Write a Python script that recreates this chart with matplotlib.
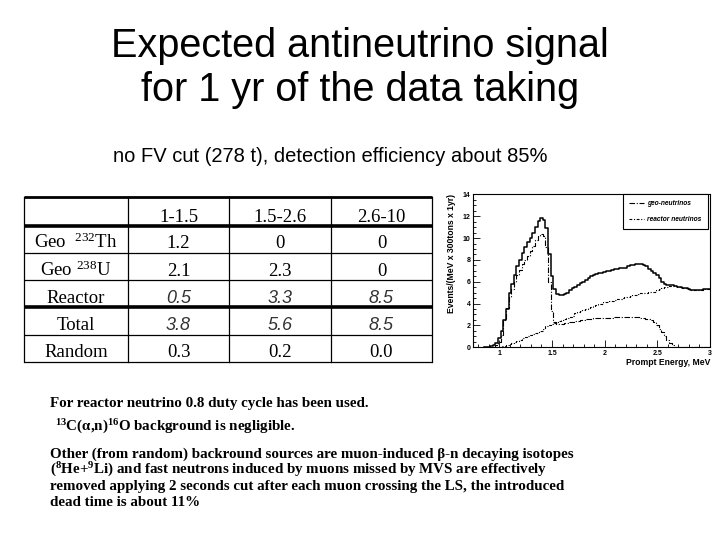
import matplotlib
matplotlib.use("Agg")
import matplotlib.pyplot as plt
import numpy as np
from matplotlib.ticker import MultipleLocator

plt.rcParams['mathtext.fontset'] = 'custom'
plt.rcParams['mathtext.rm'] = 'Liberation Serif'
plt.rcParams['mathtext.bf'] = 'Liberation Serif:bold'
plt.rcParams['mathtext.it'] = 'Liberation Serif:italic'

# ---- table data ----
col_labels = ["1-1.5", "1.5-2.6", "2.6-10"]
row_labels = [r"Geo  $^{232}$Th", r"Geo $^{238}$U", "Reactor", "Total", "Random"]
geo_th = [1.2, 0, 0]
geo_u = [2.1, 2.3, 0]
reactor_row = [0.5, 3.3, 8.5]
total_row = [3.8, 5.6, 8.5]
random_row = [0.3, 0.2, 0.0]

# ---- spectrum (bin width 0.025 MeV, from 0.85 to 3.0) ----
energia = np.round(np.arange(0.85, 3.0001, 0.025), 3)
geo = [0, 0, 0, 0, 0.05, 0.2,
       0.5, 1.1, 2.5, 3.6, 4.6, 5.3, 6.0, 6.6, 7.1, 7.6, 8.0, 8.4, 8.8, 9.3, 9.8, 10.2,
       10.4, 10.2, 9.2, 6.0, 3.3, 2.3, 2.1, 2.1, 2.1, 2.2, 2.2, 2.3, 2.3, 2.4, 2.4, 2.5,
       2.5, 2.6, 2.6, 2.6, 2.7, 2.7, 2.7, 2.7, 2.7, 2.7, 2.7, 2.7, 2.8, 2.8, 2.8, 2.8,
       2.8, 2.8, 2.8, 2.8, 2.8, 2.8, 2.7, 2.7, 2.6, 2.6, 2.5, 2.3, 2.0, 1.7, 1.4, 1.0,
       0.7, 0.4, 0.2, 0.05,
       0, 0, 0, 0, 0, 0, 0, 0, 0, 0, 0, 0, 0]
reactor = [0, 0, 0, 0, 0, 0,
           0.05, 0.1, 0.15, 0.2, 0.3, 0.4, 0.5, 0.6, 0.7, 0.8, 0.9, 1.0, 1.1, 1.2, 1.3,
           1.4, 1.5, 1.7, 1.9, 2.0, 2.1, 2.2, 2.3, 2.4, 2.5, 2.6, 2.7, 2.8, 2.9, 3.1, 3.2,
           3.3, 3.4, 3.5, 3.6, 3.7, 3.8, 3.9, 4.0, 4.0, 4.1, 4.1, 4.2, 4.2, 4.3, 4.4, 4.4,
           4.5, 4.6, 4.6, 4.7, 4.8, 4.8, 4.9, 5.0, 5.0, 5.0, 5.1, 5.1, 5.1, 5.2, 5.3, 5.4,
           5.5, 5.5, 5.6, 5.6, 5.6, 5.5, 5.5, 5.4, 5.4, 5.3, 5.2, 5.2, 5.2, 5.2, 5.2, 5.3,
           5.3, 5.3]
total = [0, 0, 0.05, 0.1, 0.2, 0.4,
         0.8, 1.5, 2.5, 3.5, 5.0, 5.8, 6.6, 7.4, 8.0, 8.6, 9.2, 9.6, 10.0, 10.5, 11.0,
         11.6, 11.8, 11.7, 10.9, 8.5, 6.5, 5.3, 4.9, 4.8, 4.8, 4.9, 5.0, 5.2, 5.4, 5.5,
         5.7, 5.9, 6.0, 6.2, 6.3, 6.5, 6.6, 6.7, 6.8, 6.8, 6.9, 7.0, 7.0, 7.1, 7.2, 7.2,
         7.3, 7.3, 7.3, 7.4, 7.5, 7.5, 7.6, 7.6, 7.6, 7.5, 7.4, 7.2, 7.0, 6.8, 6.6, 6.3,
         6.0, 5.8, 5.7, 5.7, 5.7, 5.6, 5.5, 5.5, 5.4, 5.4, 5.3, 5.2, 5.2, 5.2, 5.2, 5.2,
         5.3, 5.3, 5.3]

fig = plt.figure(figsize=(7.2, 5.4), dpi=100)

# background axes in pixel coordinates for slide text and table
bg = fig.add_axes([0, 0, 1, 1])
bg.set_xlim(0, 720)
bg.set_ylim(540, 0)
bg.axis('off')

sans = 'Liberation Sans'
serif = 'Liberation Serif'

bg.text(360, 57, "Expected antineutrino signal", ha='center', va='baseline',
        fontsize=28.5, family=sans)
bg.text(360, 101, "for 1 yr of the data taking", ha='center', va='baseline',
        fontsize=28.5, family=sans)
bg.text(330, 162, "no FV cut (278 t), detection efficiency about 85%", ha='center',
        va='baseline', fontsize=14.5, family=sans)

# table
xs = [24, 128, 229, 331, 432]
ys = [197, 226, 253, 280, 307, 335, 362]
thick = {197: 2.0, 226: 2.6, 307: 2.6}
for y in ys:
    bg.plot([xs[0], xs[-1]], [y, y], color='black', lw=thick.get(y, 0.9),
            solid_capstyle='butt')
for x in xs:
    bg.plot([x, x], [ys[0], ys[-1]], color='black', lw=0.9)

col_cx = [(xs[i] + xs[i + 1]) / 2 for i in range(4)]
base = [222, 248, 276, 303, 330, 357]
for j, c in enumerate(col_labels):
    bg.text(col_cx[j + 1], base[0], c, ha='center', va='baseline', fontsize=13.5, family=serif)

linhas = [geo_th, geo_u, reactor_row, total_row, random_row]
for i, lab in enumerate(row_labels):
    bg.text(col_cx[0], base[i + 1], lab, ha='center', va='baseline', fontsize=13.5, family=serif)
    for j, v in enumerate(linhas[i]):
        if i < 2:
            txt = '{:g}'.format(v)
        else:
            txt = '{:.1f}'.format(v)
        if i in (2, 3):
            bg.text(col_cx[j + 1], base[i + 1], txt, ha='center', va='baseline',
                    fontsize=13, family=sans, style='italic', color='#333333')
        else:
            bg.text(col_cx[j + 1], base[i + 1], txt, ha='center', va='baseline',
                    fontsize=13.5, family=serif)

# notes
nota = dict(fontsize=10.8, family=serif, weight='bold', va='baseline', ha='left')
bg.text(50, 406.5, "For reactor neutrino 0.8 duty cycle has been used.", **nota)
bg.text(55, 431, r"$^{\mathbf{13}}$C(α,n)$^{\mathbf{16}}$O background is negligible.", **nota)
bg.text(50, 458, "Other (from random) backround sources are muon-induced β-n decaying isotopes", **nota)
bg.text(50, 474, r"($^{\mathbf{8}}$He+$^{\mathbf{9}}$Li) and fast neutrons induced by muons missed by MVS are effectively", **nota)
bg.text(50, 490, "removed applying 2 seconds cut after each muon crossing the LS, the introduced", **nota)
bg.text(50, 506, "dead time is about 11%", **nota)

# spectrum plot
ax = fig.add_axes([0.657, 0.357, 0.329, 0.283])
ax.plot(energia, total, drawstyle='steps-mid', color='black', lw=1.1)
l1, = ax.plot(energia, geo, drawstyle='steps-mid', color='black', lw=0.8,
              dashes=(5, 1.5, 1, 1.5), label='geo-neutrinos')
l2, = ax.plot(energia, reactor, drawstyle='steps-mid', color='black', lw=0.8,
              dashes=(2.5, 1.5, 1, 1.5), label='reactor neutrinos')
ax.set_xlim(0.75, 3.0)
ax.set_ylim(0, 14)
ax.xaxis.set_major_locator(MultipleLocator(0.5))
ax.xaxis.set_minor_locator(MultipleLocator(0.1))
ax.yaxis.set_major_locator(MultipleLocator(2))
ax.yaxis.set_minor_locator(MultipleLocator(0.5))
ax.set_xticks([1, 1.5, 2, 2.5, 3])
ax.set_xticklabels(["1", "1.5", "2", "2.5", "3"])
ax.tick_params(which='both', direction='in', top=False, right=False, width=0.6,
               labelsize=5, pad=2)
ax.tick_params(which='major', length=5)
ax.tick_params(which='minor', length=2.5)
for lbl in ax.get_xticklabels() + ax.get_yticklabels():
    lbl.set_fontweight('bold')
    lbl.set_family(sans)
for s in ax.spines.values():
    s.set_linewidth(0.8)

ax.set_ylabel("Events/(MeV x 300tons x 1yr)", loc='top', fontsize=6.2,
              weight='bold', family=sans)
ax.yaxis.set_label_coords(-0.072, 1.0)
ax.set_xlabel("Prompt Energy, MeV", loc='right', fontsize=6.2, weight='bold', family=sans)
ax.xaxis.set_label_coords(1.0, -0.07)

leg = ax.legend(handles=[l1, l2], loc='upper right', bbox_to_anchor=(0.99, 1.0),
                borderaxespad=0, fancybox=False, edgecolor='black', framealpha=1,
                prop={'family': sans, 'style': 'italic', 'weight': 'bold', 'size': 4.8},
                handlelength=2.2, handletextpad=0.5, labelspacing=1.3, borderpad=0.9)
leg.get_frame().set_linewidth(0.8)

fig.savefig("out.png", dpi=100)
